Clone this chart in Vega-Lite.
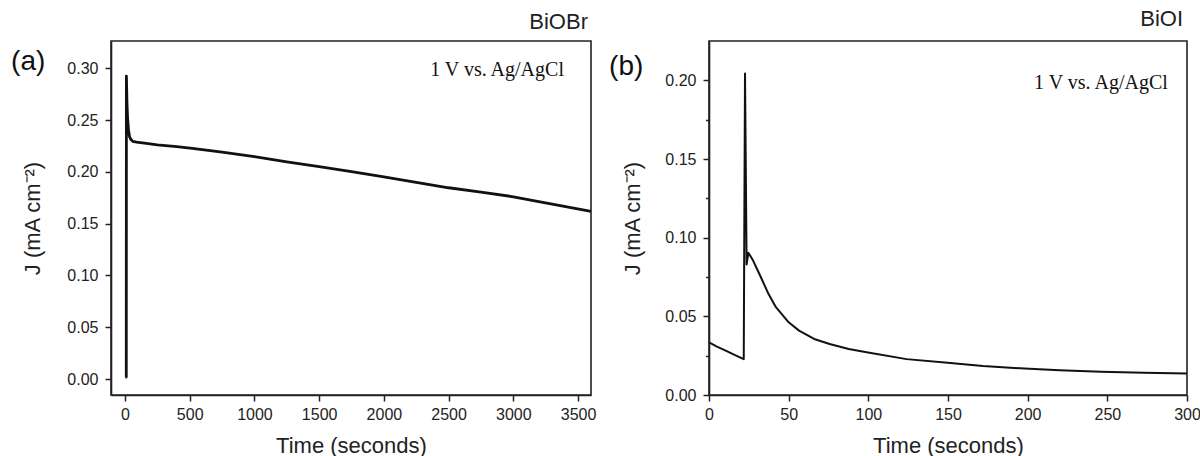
{
  "$schema": "https://vega.github.io/schema/vega-lite/v6.json",
  "background": "white",
  "padding": {"left": 10, "top": 7, "right": 0, "bottom": 0},
  "spacing": 118,
  "bounds": "flush",
  "config": {
    "view": {"stroke": "#222", "strokeWidth": 1.6},
    "axis": {
      "grid": false,
      "domainColor": "#222",
      "domainWidth": 1.6,
      "tickColor": "#222",
      "tickWidth": 1.5,
      "labelFont": "Liberation Sans",
      "labelFontSize": 16,
      "labelColor": "#222",
      "labelPadding": 7,
      "labelFlush": false,
      "labelOverlap": false,
      "titleFont": "Liberation Sans",
      "titleFontSize": 22,
      "titleFontWeight": "normal",
      "titleColor": "#222"
    },
    "title": {"font": "Liberation Sans", "fontSize": 22, "fontWeight": "normal", "color": "#222"}
  },
  "datasets": {
    "a": [
      {"t": 2, "J": 0.002}, {"t": 10, "J": 0.002}, {"t": 11, "J": 0.2925}, {"t": 15, "J": 0.268},
      {"t": 20, "J": 0.252}, {"t": 27, "J": 0.241}, {"t": 35, "J": 0.234}, {"t": 45, "J": 0.2315},
      {"t": 60, "J": 0.2295}, {"t": 90, "J": 0.2288}, {"t": 150, "J": 0.2278}, {"t": 250, "J": 0.2262},
      {"t": 400, "J": 0.2245}, {"t": 520, "J": 0.2228}, {"t": 750, "J": 0.219}, {"t": 1000, "J": 0.2147},
      {"t": 1250, "J": 0.2098}, {"t": 1500, "J": 0.205}, {"t": 1750, "J": 0.2002}, {"t": 2000, "J": 0.1953},
      {"t": 2250, "J": 0.19}, {"t": 2500, "J": 0.1847}, {"t": 2750, "J": 0.1805}, {"t": 3000, "J": 0.176},
      {"t": 3300, "J": 0.169}, {"t": 3600, "J": 0.162}
    ],
    "b": [
      {"t": 0, "J": 0.0334}, {"t": 5, "J": 0.0308}, {"t": 10.8, "J": 0.0281}, {"t": 16, "J": 0.0255},
      {"t": 21.8, "J": 0.0228}, {"t": 22.6, "J": 0.2043}, {"t": 23.6, "J": 0.083}, {"t": 24.7, "J": 0.0904},
      {"t": 27.6, "J": 0.0856}, {"t": 32.5, "J": 0.075}, {"t": 37.3, "J": 0.0643}, {"t": 42, "J": 0.0558},
      {"t": 50, "J": 0.0462}, {"t": 56.5, "J": 0.0409}, {"t": 66, "J": 0.0356}, {"t": 75.7, "J": 0.0324},
      {"t": 87.7, "J": 0.0292}, {"t": 99.8, "J": 0.027}, {"t": 124, "J": 0.0228}, {"t": 148, "J": 0.0207},
      {"t": 172, "J": 0.0185}, {"t": 198, "J": 0.0168}, {"t": 220, "J": 0.0158}, {"t": 246, "J": 0.0147},
      {"t": 273, "J": 0.0141}, {"t": 300, "J": 0.0136}
    ],
    "labelsA": [
      {"x": 2358, "y": 0.2923, "label": "1 V vs. Ag/AgCl"}
    ],
    "tagA": [
      {"x": -880, "y": 0.298, "label": "(a)"}
    ],
    "labelsB": [
      {"x": 204, "y": 0.1944, "label": "1 V vs. Ag/AgCl"}
    ],
    "tagB": [
      {"x": -62.7, "y": 0.2036, "label": "(b)"}
    ]
  },
  "hconcat": [
    {
      "width": 480,
      "height": 354,
      "title": {"text": "BiOBr", "anchor": "end", "frame": "group", "baseline": "alphabetic", "offset": -10, "dx": -3},
      "layer": [
        {
          "data": {"name": "a"},
          "mark": {"type": "line", "color": "#111", "strokeWidth": 2.8, "strokeJoin": "round"},
          "encoding": {
            "x": {
              "field": "t", "type": "quantitative",
              "scale": {"domain": [-108, 3600], "nice": false, "zero": false},
              "axis": {
                "title": "Time (seconds)",
                "titlePadding": 12.5,
                "labelPadding": 5.5,
                "values": [0, 250, 500, 750, 1000, 1250, 1500, 1750, 2000, 2250, 2500, 2750, 3000, 3250, 3500],
                "labelExpr": "datum.value % 500 === 0 ? format(datum.value, 'd') : ''",
                "tickSize": {"condition": {"test": "datum.value % 500 === 0", "value": 6}, "value": 3.5}
              }
            },
            "y": {
              "field": "J", "type": "quantitative",
              "scale": {"domain": [-0.0154, 0.3264], "nice": false, "zero": false},
              "axis": {
                "title": "J (mA cm⁻²)",
                "titlePadding": 22,
                "values": [0, 0.025, 0.05, 0.075, 0.1, 0.125, 0.15, 0.175, 0.2, 0.225, 0.25, 0.275, 0.3],
                "labelExpr": "round(datum.value * 1000) % 50 === 0 ? format(datum.value, '.2f') : ''",
                "tickSize": {"condition": {"test": "round(datum.value * 1000) % 50 === 0", "value": 6}, "value": 3.5}
              }
            }
          }
        },
        {
          "data": {"name": "labelsA"},
          "mark": {"type": "text", "font": "Liberation Serif", "fontSize": 20, "align": "left", "baseline": "alphabetic", "color": "#111"},
          "encoding": {
            "x": {"field": "x", "type": "quantitative"},
            "y": {"field": "y", "type": "quantitative"},
            "text": {"field": "label"}
          }
        },
        {
          "data": {"name": "tagA"},
          "mark": {"type": "text", "font": "Liberation Sans", "fontSize": 28, "align": "left", "baseline": "alphabetic", "color": "#111"},
          "encoding": {
            "x": {"field": "x", "type": "quantitative"},
            "y": {"field": "y", "type": "quantitative"},
            "text": {"field": "label"}
          }
        }
      ]
    },
    {
      "width": 478,
      "height": 354,
      "title": {"text": "BiOI", "anchor": "end", "frame": "group", "baseline": "alphabetic", "offset": -7, "dx": -4},
      "layer": [
        {
          "data": {"name": "b"},
          "mark": {"type": "line", "color": "#111", "strokeWidth": 2, "strokeJoin": "round"},
          "encoding": {
            "x": {
              "field": "t", "type": "quantitative",
              "scale": {"domain": [0, 300], "nice": false, "zero": false},
              "axis": {
                "title": "Time (seconds)",
                "titlePadding": 12.5,
                "labelPadding": 5.5,
                "values": [0, 25, 50, 75, 100, 125, 150, 175, 200, 225, 250, 275, 300],
                "labelExpr": "datum.value % 50 === 0 ? format(datum.value, 'd') : ''",
                "tickSize": {"condition": {"test": "datum.value % 50 === 0", "value": 6}, "value": 3.5}
              }
            },
            "y": {
              "field": "J", "type": "quantitative",
              "scale": {"domain": [0, 0.225], "nice": false, "zero": false},
              "axis": {
                "title": "J (mA cm⁻²)",
                "titlePadding": 20,
                "values": [0, 0.025, 0.05, 0.075, 0.1, 0.125, 0.15, 0.175, 0.2],
                "labelExpr": "round(datum.value * 1000) % 50 === 0 ? format(datum.value, '.2f') : ''",
                "tickSize": {"condition": {"test": "round(datum.value * 1000) % 50 === 0", "value": 6}, "value": 3.5}
              }
            }
          }
        },
        {
          "data": {"name": "labelsB"},
          "mark": {"type": "text", "font": "Liberation Serif", "fontSize": 20, "align": "left", "baseline": "alphabetic", "color": "#111"},
          "encoding": {
            "x": {"field": "x", "type": "quantitative"},
            "y": {"field": "y", "type": "quantitative"},
            "text": {"field": "label"}
          }
        },
        {
          "data": {"name": "tagB"},
          "mark": {"type": "text", "font": "Liberation Sans", "fontSize": 28, "align": "left", "baseline": "alphabetic", "color": "#111"},
          "encoding": {
            "x": {"field": "x", "type": "quantitative"},
            "y": {"field": "y", "type": "quantitative"},
            "text": {"field": "label"}
          }
        }
      ]
    }
  ]
}
